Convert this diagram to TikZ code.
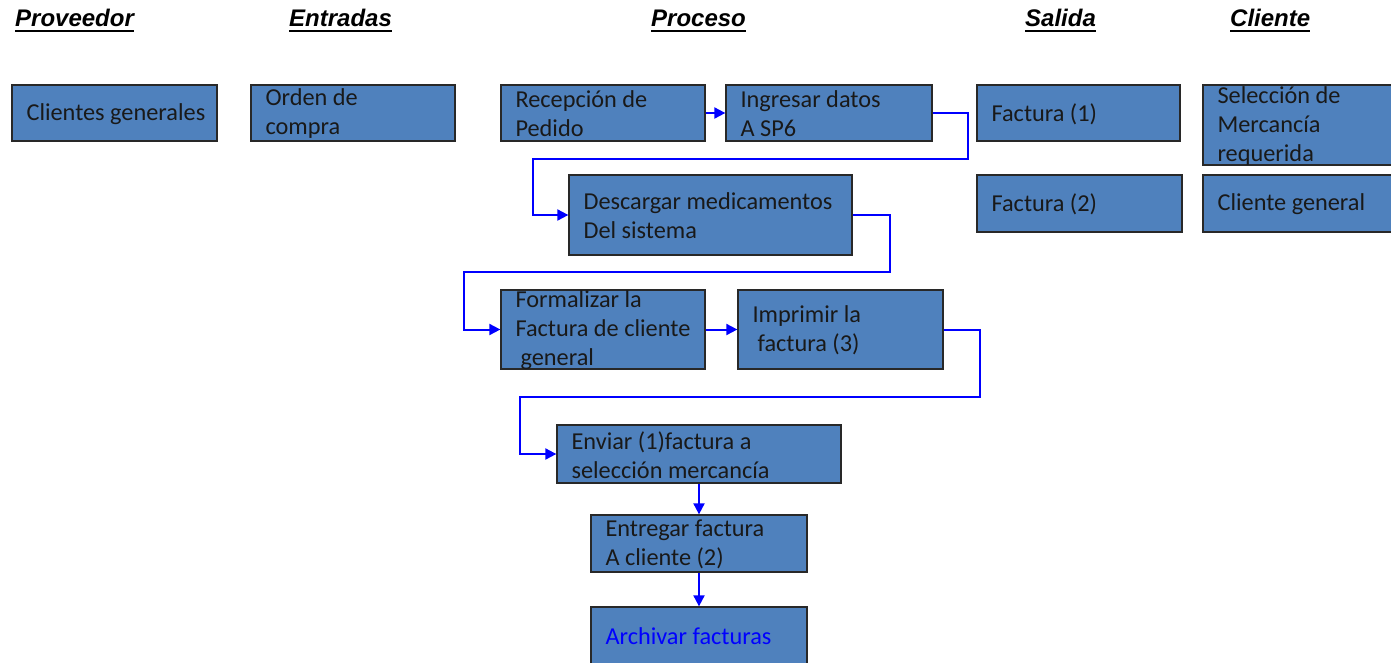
\documentclass[tikz,border=0pt]{standalone}
\usepackage{fontspec}
\usetikzlibrary{arrows.meta}
\newfontfamily\hdrfont{Liberation Sans}
\newfontfamily\boxfont{Carlito}
\definecolor{boxblue}{RGB}{79,129,189}
\definecolor{boxline}{RGB}{40,40,40}
\definecolor{arrblue}{RGB}{0,0,255}
\tikzset{
  pbox/.style={draw=boxline, line width=1.3pt, fill=boxblue, inner sep=0pt},
  ptxt/.style={font=\boxfont\fontsize{24.3}{29}\selectfont, align=left, inner sep=0pt, text=black!90, anchor=west},
  hdr/.style={font=\hdrfont\bfseries\itshape\fontsize{24}{28}\selectfont, inner sep=0pt, anchor=base west},
  uline/.style={line width=2pt, black},
  conn/.style={draw=arrblue, line width=2pt, -{Triangle[length=11pt,width=11pt]}},
}
\newcommand\bx[6]{%
  \pgfmathsetmacro\bxw{#4-#2}%
  \pgfmathsetmacro\bxh{#5-#3}%
  \node[pbox, minimum width=\bxw pt, minimum height=\bxh pt] (#1) at ({(#2+#4)/2},{(#3+#5)/2}) {};
  \node[ptxt] (#1-t) at ([xshift=15pt,yshift=-1pt]#1.west) {#6};
}
\newcommand\hd[3]{%
  \node[hdr] (#1) at (#2,26) {#3};
  \draw[uline] ([yshift=-5pt]#1.base west) -- ([yshift=-5pt]#1.base east);
}
\begin{document}
\begin{tikzpicture}[x=1pt,y=-1pt]
\clip (0,0) rectangle (1391,662);
\fill[white] (0,0) rectangle (1391,662);
% headers
\hd{hprov}{15}{Proveedor}
\hd{hent}{289}{Entradas}
\hd{hproc}{651}{Proceso}
\hd{hsal}{1025}{Salida}
\hd{hcli}{1230}{Cliente}
% boxes
\bx{clientes}{12}{85}{217}{141}{Clientes generales}
\bx{orden}{251}{85}{455}{141}{Orden de\\compra}
\bx{recepcion}{501}{85}{705}{141}{Recepción de\\Pedido}
\bx{ingresar}{726}{85}{932}{141}{Ingresar datos\\A SP6}
\bx{fact1}{977}{85}{1180}{141}{Factura (1)}
\bx{seleccion}{1203}{85}{1410}{165}{Selección de\\Mercancía\\requerida}
\bx{fact2}{977}{175}{1182}{232}{Factura (2)}
\bx{clgen}{1203}{175}{1410}{232}{Cliente general}
\bx{descargar}{569}{175}{852}{255}{Descargar medicamentos\\Del sistema}
\bx{formalizar}{501}{290}{705}{369}{Formalizar la\\Factura de cliente\\\hspace*{5pt}general}
\bx{imprimir}{738}{290}{943}{369}{Imprimir la\\\hspace*{5pt}factura (3)}
\bx{enviar}{557}{425}{841}{483}{Enviar (1)factura a\\selección mercancía}
\bx{entregar}{591}{515}{807}{572}{Entregar factura\\A cliente (2)}
\bx{archivar}{591}{607}{807}{664}{\textcolor{arrblue}{Archivar facturas}}
% connectors
\draw[conn] (recepcion.east) -- (ingresar.west);
\draw[conn] (ingresar.east) -- ++(35,0) |- (533,159) |- (descargar.west);
\draw[conn] (descargar.east) -- ++(37,0) |- (464,272) |- (formalizar.west);
\draw[conn] (formalizar.east) -- (imprimir.west);
\draw[conn] (imprimir.east) -- ++(36,0) |- (520,397) |- (enviar.west);
\draw[conn] (enviar.south) -- (entregar.north);
\draw[conn] (entregar.south) -- (archivar.north);
\end{tikzpicture}
\end{document}
